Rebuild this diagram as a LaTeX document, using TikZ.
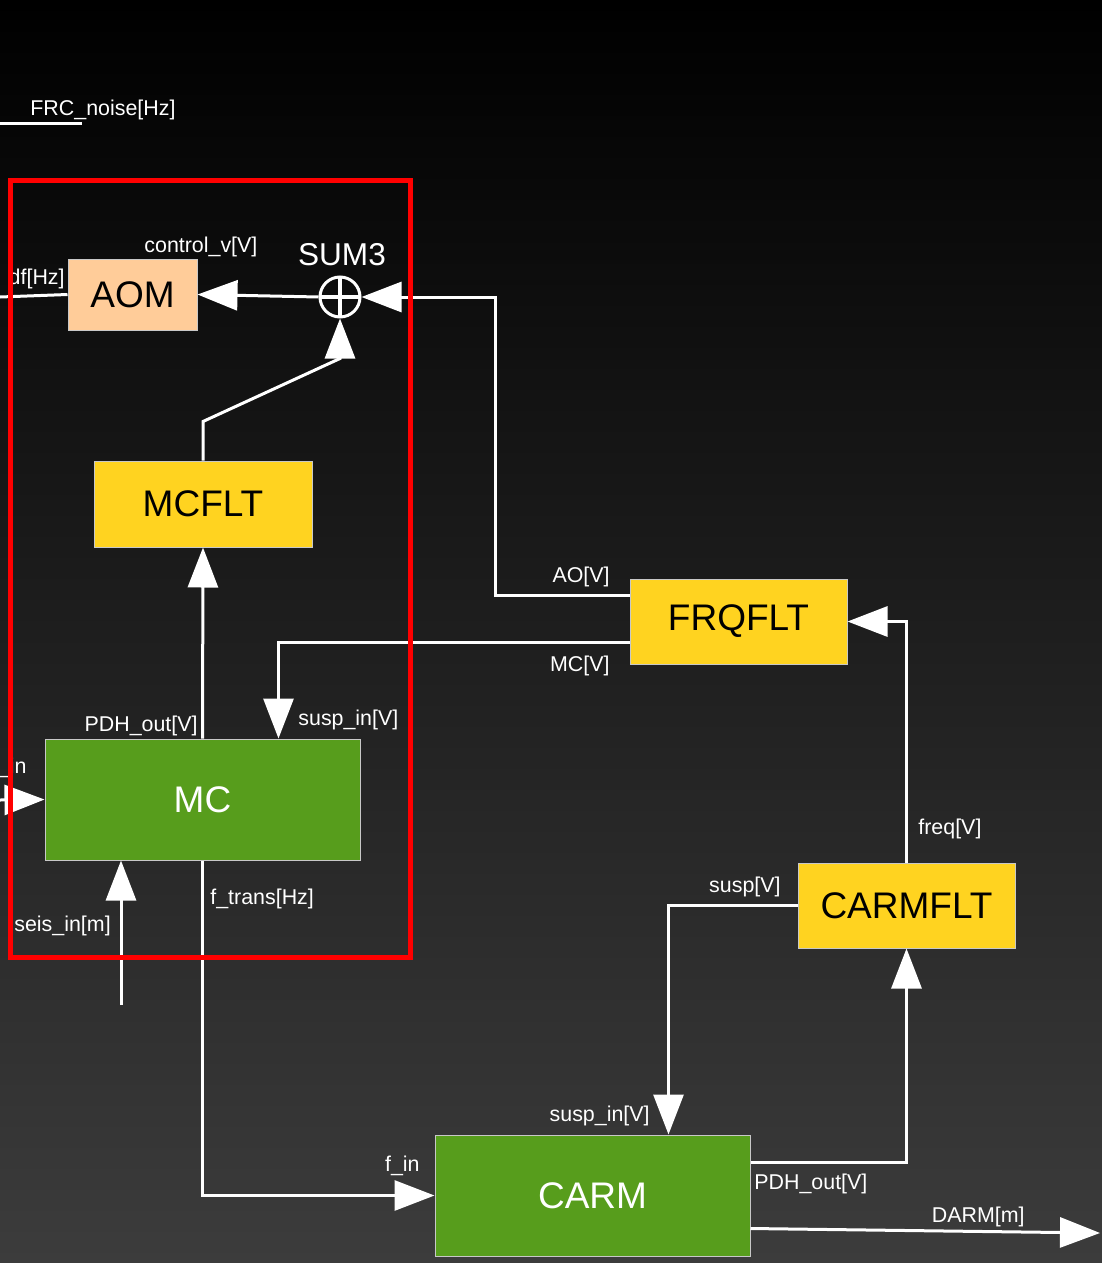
\documentclass[tikz,border=0pt]{standalone}
\usepackage{fontspec}
\setmainfont{Liberation Sans}
\usetikzlibrary{arrows.meta,positioning,calc}
\definecolor{bgtop}{HTML}{000000}
\definecolor{bgbot}{HTML}{3C3C3C}
\definecolor{peach}{HTML}{FFCC99}
\definecolor{flty}{HTML}{FFD320}
\definecolor{plantg}{HTML}{579D1C}
\definecolor{edgec}{HTML}{C8C8C8}
\definecolor{loopred}{HTML}{FF0000}
\tikzset{
  blk/.style={draw=edgec,line width=0.5pt,inner sep=0pt,align=center,
    font=\fontsize{18.5}{20}\selectfont},
  aomblk/.style={blk,fill=peach,text=black},
  fltblk/.style={blk,fill=flty,text=black},
  plantblk/.style={blk,fill=plantg,text=white},
  sumnode/.style={circle,draw=white,line width=1.5pt,minimum size=20pt,inner sep=0pt,
    path picture={\draw[white,line width=2pt]
      (path picture bounding box.north) -- (path picture bounding box.south)
      (path picture bounding box.west) -- (path picture bounding box.east);}},
  sig/.style={draw=white,line width=1.5pt},
  flow/.style={sig,-{Triangle[length=20pt,width=15pt]}},
  slabel/.style={text=white,font=\fontsize{10.7}{12}\selectfont,inner sep=0pt},
  loopbox/.style={draw=loopred,line width=2.5pt},
}
\begin{document}
\begin{tikzpicture}[x=0.5pt,y=-0.5pt]
  % background
  \shade[top color=bgtop,bottom color=bgbot] (0,0) rectangle (1102,1263);
  \useasboundingbox (0,0) rectangle (1102,1263);
  % blocks
  \node[aomblk,minimum width=64.5pt,minimum height=35.5pt] (aom) at (132.5,294.5){AOM};
  \node[sumnode] (sum) at (340,297){};
  \node[fltblk,minimum width=109pt,minimum height=43pt] (mcflt) at (203,504){MCFLT};
  \node[plantblk,minimum width=157.5pt,minimum height=60.5pt] (mc) at (202.5,799.5){MC};
  \node[fltblk,minimum width=108.5pt,minimum height=42.5pt] (frq) at (738.5,621.5){FRQFLT};
  \node[fltblk,minimum width=108.5pt,minimum height=42.5pt] (carmflt) at (906.5,905.5){CARMFLT};
  \node[plantblk,minimum width=157.5pt,minimum height=60.5pt] (carm) at (592.5,1195.5){CARM};
  % free ends
  \coordinate (frca) at (0,124);
  \coordinate (frcb) at (82,124);
  \coordinate (dfin) at (0,297);
  \coordinate (fin) at (0,800);
  \coordinate (seis) at (121,1005);
  \coordinate (darm) at (1100,1233);
  % connectors
  \draw[sig] (frca) -- (frcb);
  \draw[sig] (dfin) -- (aom.west);
  \draw[flow] (sum.west) -- (aom.east);
  \draw[flow] ($(frq.north west)+(0,17)$) -| (495,297) -- (sum.east);
  \draw[flow] (mcflt.north) -- ++(0,-39) -- ($(sum.south)+(0,40)$) -- (sum.south);
  \draw[flow] (mc.north) -- (mcflt.south);
  \draw[flow] ($(frq.south west)+(0,-22)$) -| ($(mc.north west)+(234,0)$);
  \draw[flow] (fin) -- (mc.west);
  \draw[flow] (seis) -- (seis |- mc.south);
  \draw[flow] (mc.south) |- (carm.west);
  \draw[flow] (carmflt.north) |- (frq.east);
  \draw[flow] (carmflt.west) -| ($(carm.north west)+(234,0)$);
  \draw[flow] ($(carm.north east)+(0,28)$) -| (carmflt.south);
  \draw[flow] ($(carm.south east)+(0,-28)$) -- (darm);
  % labels
  \node[slabel,anchor=west] (lfrc) at (30,110){FRC\_noise[Hz]};
  \node[slabel,anchor=east] (ldf) at (65,279){df[Hz]};
  \node[slabel,anchor=west] (lctl) at (144,247){control\_v[V]};
  \node[slabel,font=\fontsize{15.8}{18}\selectfont] (lsum) at (342,255){SUM3};
  \node[slabel,anchor=east] (lao) at (610,577){AO[V]};
  \node[slabel,anchor=east] (lmcv) at (610,666){MC[V]};
  \node[slabel,anchor=east] (lpdh) at (198,726){PDH\_out[V]};
  \node[slabel,anchor=west] (lsusp) at (298,720){susp\_in[V]};
  \node[slabel,anchor=east] (lfin) at (27,768){f\_in};
  \node[slabel,anchor=west] (ltrans) at (210,899){f\_trans[Hz]};
  \node[slabel,anchor=west] (lseis) at (14,926){seis\_in[m]};
  \node[slabel,anchor=west] (lfreq) at (918,829){freq[V]};
  \node[slabel,anchor=east] (lsuspv) at (781,887){susp[V]};
  \node[slabel,anchor=east] (lsuspc) at (650,1116){susp\_in[V]};
  \node[slabel,anchor=east] (lfinc) at (420,1166){f\_in};
  \node[slabel,anchor=west] (lpdhc) at (754,1184){PDH\_out[V]};
  \node[slabel,anchor=east] (ldarm) at (1025,1217){DARM[m]};
  % loop frame
  \draw[loopbox] (10,180) rectangle (410,957);
\end{tikzpicture}
\end{document}
